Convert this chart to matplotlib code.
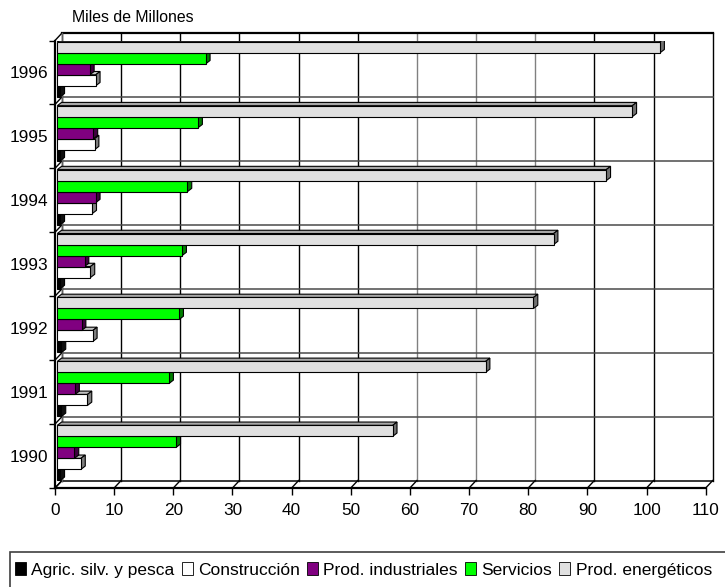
import matplotlib
matplotlib.use('Agg')
import matplotlib.pyplot as plt
from matplotlib.patches import Polygon, Rectangle, Patch

# ---- data ----
years = ['1990', '1991', '1992', '1993', '1994', '1995', '1996']
agric = [0.5, 0.7, 0.7, 0.5, 0.5, 0.5, 0.5]
construccion = [4.0, 5.1, 6.0, 5.6, 5.9, 6.3, 6.5]
industriales = [2.9, 3.0, 4.1, 4.6, 6.5, 6.1, 5.5]
servicios = [20.1, 18.9, 20.6, 21.1, 22.0, 23.8, 25.1]
energeticos = [56.7, 72.4, 80.5, 83.9, 92.8, 97.2, 101.9]
series_names = ['Agric. silv. y pesca', 'Construcción', 'Prod. industriales',
                'Servicios', 'Prod. energéticos']
xticks = list(range(0, 111, 10))
title = 'Miles de Millones'

# ---- styles ----
front_cols = ['#000000', '#ffffff', '#800080', '#00ff00', '#e0e0e0']
top_cols = ['#202020', '#c0c0c0', '#600060', '#00c000', '#a8a8a8']
side_cols = ['#101010', '#808080', '#400040', '#008000', '#707070']

plt.rcParams['font.family'] = ['Liberation Sans', 'DejaVu Sans']

W, H = 725, 587
fig = plt.figure(figsize=(W / 100, H / 100), dpi=100)

x0px, x1px = 55, 705.7
ybot, ytop = 488, 40.5
ax = fig.add_axes([x0px / W, (H - ybot) / H, (x1px - x0px) / W, (ybot - ytop) / H])
ax.set_xlim(0, 110)
ax.set_ylim(-0.5, 6.5)
ax.patch.set_visible(False)

pxx = (x1px - x0px) / 110.0   # px per x unit
pxy = (ybot - ytop) / 7.0      # px per category
dxw, dyw = 7 / pxx, 7.5 / pxy  # wall depth
dxb, dyb = 4.3 / pxx, 3.3 / pxy  # bar depth
bar_left = 2.3 / pxx
bar_h = 11 / pxy
yshift = 0.05

bounds = [i - 0.5 for i in range(len(years) + 1)]

# ---- back wall, floor, left wall ----
for t in xticks:
    col = '#808080' if t in (60, 70, 80) else 'black'
    ax.plot([t + dxw, t + dxw], [-0.5 + dyw, 6.5 + dyw], color=col, lw=1.0,
            zorder=1, clip_on=False)
    ax.plot([t, t + dxw], [-0.5, -0.5 + dyw], color='black', lw=1.0, zorder=1,
            clip_on=False)
for b in bounds:
    lc = 'black' if b in (bounds[0], bounds[-1]) else '#4a4a4a'
    lw = 1.6 if b == bounds[-1] else 1.1
    ax.plot([dxw, 110 + dxw], [b + dyw, b + dyw], color=lc, lw=lw, zorder=1,
            clip_on=False)
    ax.plot([0, dxw], [b, b + dyw], color='black', lw=1.0, zorder=1, clip_on=False)
ax.plot([dxw, dxw], [-0.5 + dyw, 6.5 + dyw], color='#606060', lw=1.0, zorder=1,
        clip_on=False)

# ---- bars ----
series = [agric, construccion, industriales, servicios, energeticos]
for k, vals in enumerate(series):
    ys = [i + yshift + (k - 2) * bar_h for i in range(len(years))]
    z = 3 + k
    ax.barh(ys, vals, left=bar_left, height=bar_h, color=front_cols[k],
            edgecolor='black', linewidth=0.8, zorder=z)
    for y, v in zip(ys, vals):
        top = y + bar_h / 2
        bot = y - bar_h / 2
        r = bar_left + v
        ax.add_patch(Polygon([(bar_left, top), (r, top), (r + dxb, top + dyb),
                              (bar_left + dxb, top + dyb)], closed=True,
                             facecolor=top_cols[k], edgecolor='black', lw=0.8,
                             zorder=z - 0.5))
        ax.add_patch(Polygon([(r, bot), (r + dxb, bot + dyb), (r + dxb, top + dyb),
                              (r, top)], closed=True, facecolor=side_cols[k],
                             edgecolor='black', lw=0.8, zorder=z - 0.5))

# ---- spines / ticks ----
for s in ('top', 'right'):
    ax.spines[s].set_visible(False)
ax.spines['left'].set_linewidth(1.6)
ax.spines['bottom'].set_linewidth(1.6)
ax.spines['left'].set_zorder(10)
ax.spines['bottom'].set_zorder(10)

ax.set_xticks(xticks)
ax.set_xticklabels([str(t) for t in xticks], fontsize=12.4)
ax.tick_params(axis='x', length=5, width=1, pad=5.5, direction='out')
ax.set_yticks(range(len(years)))
ax.set_yticklabels(years, fontsize=12.4)
ax.tick_params(axis='y', which='major', length=0, pad=5)
ax.set_yticks(bounds, minor=True)
ax.tick_params(axis='y', which='minor', length=4.5, width=1, direction='out')

fig.text(72 / W, 1 - 18 / H, title, fontsize=11.4, ha='left', va='center')

# ---- legend ----
handles = [Patch(facecolor=front_cols[k], edgecolor='black', linewidth=0.6)
           for k in range(len(series_names))]
leg = fig.legend(handles, series_names, loc='center left', ncol=5,
                 bbox_to_anchor=(15 / W, (H - 570) / H), frameon=False,
                 fontsize=12.5, handlelength=0.65, handleheight=0.7,
                 handletextpad=0.3, columnspacing=0.4, borderpad=0,
                 borderaxespad=0)
fig.add_artist(Rectangle((10 / W, -0.05), 1.0, (H - 552) / H + 0.05,
                         transform=fig.transFigure, fill=False,
                         edgecolor='#404040', lw=1.2, clip_on=False))

fig.savefig('out.png', dpi=100)
